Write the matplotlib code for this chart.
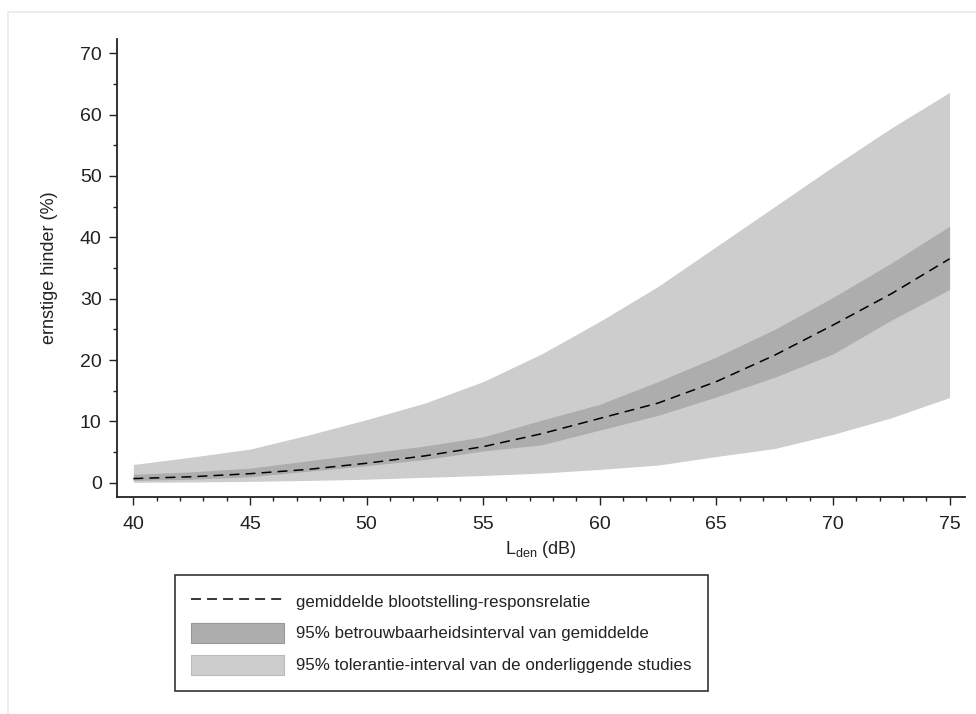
import numpy as np
import matplotlib
matplotlib.use('Agg')
import matplotlib.pyplot as plt
from matplotlib.patches import Patch, Rectangle
from matplotlib.lines import Line2D
from matplotlib.ticker import MultipleLocator

plt.rcParams['font.family'] = ['Liberation Sans', 'DejaVu Sans']
plt.rcParams['mathtext.fontset'] = 'custom'
plt.rcParams['mathtext.rm'] = 'Liberation Sans'
plt.rcParams['mathtext.it'] = 'Liberation Sans'

# Lden (dB) and percentage highly annoyed
lden = [40, 42.5, 45, 47.5, 50, 52.5, 55, 57.5, 60, 62.5, 65, 67.5, 70, 72.5, 75]
mean_curve = [0.7, 1.0, 1.5, 2.2, 3.2, 4.4, 5.9, 8.0, 10.5, 13.0, 16.5, 20.8, 25.7, 30.8, 36.5]
ci_low = [0.4, 0.6, 1.0, 1.9, 2.8, 3.8, 5.2, 6.2, 8.6, 11.0, 14.0, 17.2, 21.0, 26.5, 31.5]
ci_high = [1.4, 1.8, 2.4, 3.6, 4.8, 6.0, 7.5, 10.2, 12.8, 16.5, 20.5, 25.0, 30.2, 35.8, 41.8]
tol_low = [0.1, 0.15, 0.25, 0.4, 0.6, 0.9, 1.2, 1.6, 2.2, 2.9, 4.3, 5.6, 7.9, 10.6, 13.9]
tol_high = [3.0, 4.2, 5.5, 7.8, 10.3, 13.0, 16.5, 21.0, 26.3, 32.0, 38.5, 45.0, 51.5, 57.8, 63.6]

labels = ['gemiddelde blootstelling-responsrelatie',
          '95% betrouwbaarheidsinterval van gemiddelde',
          '95% tolerantie-interval van de onderliggende studies']

tol_color = '#cdcdcd'
ci_color = '#adadad'
ink = '#222222'

fig = plt.figure(figsize=(9.76, 7.14), dpi=100)
ax = fig.add_axes([0.1199, 0.3039, 0.8688, 0.6415])

ax.fill_between(lden, tol_low, tol_high, color=tol_color, lw=0)
ax.fill_between(lden, ci_low, ci_high, color=ci_color, lw=0)
ax.plot(lden, mean_curve, color='black', lw=1.1, dashes=(6.5, 4))

ax.set_xlim(39.3, 75.66)
ax.set_ylim(-2.3, 72.3)
ax.xaxis.set_major_locator(MultipleLocator(5))
ax.xaxis.set_minor_locator(MultipleLocator(1))
ax.yaxis.set_major_locator(MultipleLocator(10))
ax.yaxis.set_minor_locator(MultipleLocator(5))

for side in ['top', 'right']:
    ax.spines[side].set_visible(False)
for side in ['left', 'bottom']:
    ax.spines[side].set_linewidth(1.3)
    ax.spines[side].set_color(ink)

ax.tick_params(which='major', direction='out', length=6, width=1,
               labelsize=14, colors=ink)
ax.tick_params(axis='x', which='major', pad=8)
ax.tick_params(axis='y', which='major', pad=5)
ax.tick_params(which='minor', direction='out', length=3, width=1, colors=ink)

ax.set_ylabel('ernstige hinder (%)', fontsize=13, color=ink, labelpad=16)
ax.set_xlabel(r'$\mathrm{L}_{\mathrm{den}}$ (dB)', fontsize=13,
              color=ink, labelpad=4)

handles = [Line2D([], [], color='black', lw=1.1, dashes=(6.5, 4)),
           Patch(facecolor=ci_color, edgecolor='#999999', lw=0.8),
           Patch(facecolor=tol_color, edgecolor='#bbbbbb', lw=0.8)]
leg = fig.legend(handles, labels, loc='upper left',
                 bbox_to_anchor=(175 / 976, 1 - 575 / 714),
                 fontsize=12.2, frameon=True, fancybox=False,
                 handlelength=5.5, handleheight=1.4, handletextpad=0.7,
                 labelspacing=0.73, borderpad=0.95, borderaxespad=0)
leg.get_frame().set_edgecolor('black')
leg.get_frame().set_linewidth(1.2)
for t in leg.get_texts():
    t.set_color(ink)

# faint outer frame
fig.patches.append(Rectangle((8 / 976, -0.1), 1.2, 1 - 12 / 714 + 0.1,
                             transform=fig.transFigure, fill=False,
                             edgecolor='#e4ecec', lw=1.2))

fig.savefig('out.png', dpi=100)
